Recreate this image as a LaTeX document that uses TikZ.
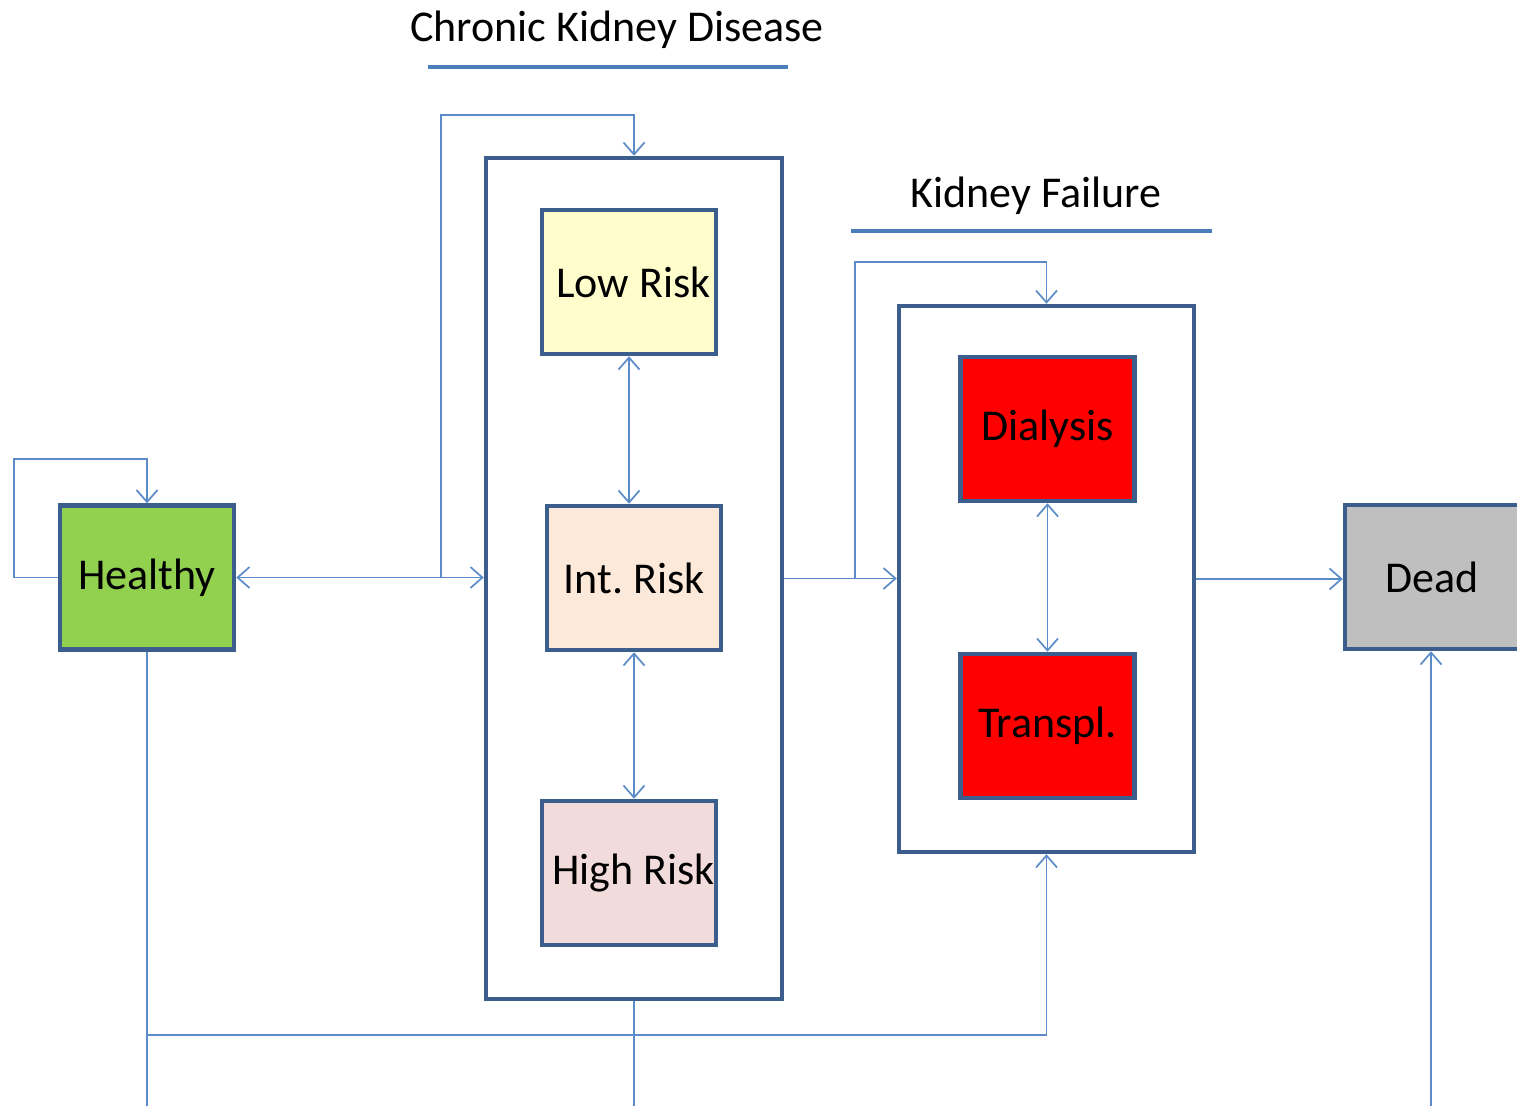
\documentclass[tikz,border=0pt]{standalone}
\usepackage{fontspec}
\setmainfont{Carlito}
\usetikzlibrary{arrows.meta}
\definecolor{bord}{HTML}{3B5E8C}
\definecolor{conn}{HTML}{5B8BC9}
\definecolor{uline}{HTML}{4A7EBB}
\definecolor{healthyc}{HTML}{92D050}
\definecolor{lowc}{HTML}{FFFDCC}
\definecolor{intc}{HTML}{FCE9DA}
\definecolor{highc}{HTML}{F2DCDB}
\definecolor{deadc}{HTML}{BFBFBF}
\begin{document}
\frenchspacing
\begin{tikzpicture}[x=1pt,y=-1pt,
  state/.style={draw=bord, line width=4.5pt, minimum width=174pt, minimum height=144pt, inner sep=0pt, font=\fontsize{44}{50}\selectfont},
  group/.style={draw=bord, line width=4.5pt, inner sep=0pt},
  link/.style={draw=conn, line width=1.7pt, -{Straight Barb[length=12pt,width=21pt]}},
  both/.style={draw=conn, line width=1.7pt, {Straight Barb[length=12pt,width=21pt]}-{Straight Barb[length=12pt,width=21pt]}},
  plain/.style={draw=conn, line width=1.7pt},
  title/.style={font=\fontsize{44}{50}\selectfont, inner sep=0pt},
  underline/.style={draw=uline, line width=4.5pt}
]
\useasboundingbox (0,0) rectangle (1517,1105);

% titles
\node[title] (t1) at (617,30) {Chronic Kidney Disease};
\node[title] (t2) at (1036,196) {Kidney Failure};
\draw[underline] (428,67) -- (788,67);
\draw[underline] (851,231) -- (1212,231);

% groups
\node[group, minimum width=296pt, minimum height=841pt] (ckd) at (634,578.5) {};
\node[group, minimum width=295pt, minimum height=546pt] (kf) at (1046.5,579) {};

% states
\node[state, fill=healthyc] (healthy) at (147,577.5) {Healthy};
\node[state, fill=lowc] (low) at (629,282) {\hspace*{9pt}Low Risk};
\node[state, fill=intc] (int) at (634,578) {Int. Risk};
\node[state, fill=highc] (high) at (629,873) {\hspace*{9pt}High Risk};
\node[state, fill=red] (dia) at (1047.5,429) {Dialysis};
\node[state, fill=red] (tra) at (1047.5,726) {Transpl.};
\node[state, fill=deadc] (dead) at (1432,577) {Dead};

% coordinates
\coordinate (hl) at (14,459);
\coordinate (cs) at (441,577.5);
\coordinate (ct) at (441,115);
\coordinate (ks) at (855,578.5);
\coordinate (kt) at (855,262);
\coordinate (hb) at (147,1115);
\coordinate (hj) at (147,1035);
\coordinate (db) at (1431,1115);

% connectors
\draw[link] (healthy.west) -| (hl) -| (healthy.north);
\draw[both] (healthy.east) -- (healthy.east -| ckd.west);
\draw[link] (cs) -- (ct) -| (ckd.north);
\draw[both] (low.south) -- (low.south |- int.north);
\draw[both] (int.south) -- (int.south |- high.north);
\draw[link] (ckd.east) -- (ckd.east -| kf.west);
\draw[link] (ks) -- (kt) -| (kf.north);
\draw[both] (dia.south) -- (tra.north);
\draw[link] (kf.east) -- (kf.east -| dead.west);
\draw[plain] (healthy.south) -- (hb);
\draw[link] (hj) -| (kf.south);
\draw[plain] (ckd.south) -- (ckd.south |- hb);
\draw[link] (db) -- (db |- dead.south);
\end{tikzpicture}
\end{document}
